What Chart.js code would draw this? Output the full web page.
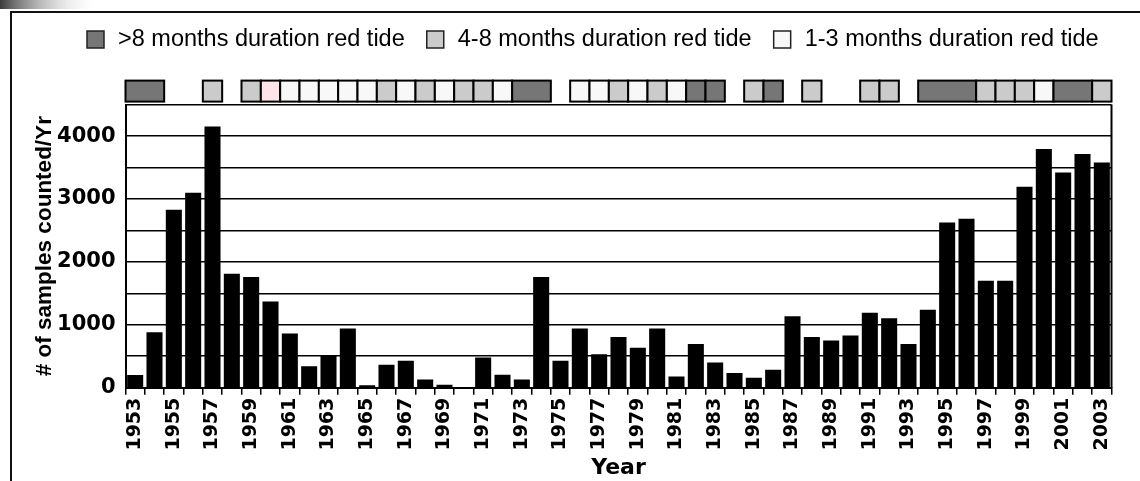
<!DOCTYPE html>
<html>
<head>
<meta charset="utf-8">
<script src="https://cdn.jsdelivr.net/npm/chart.js@4.4.0/dist/chart.umd.min.js"></script>
<style>
  html, body { margin: 0; padding: 0; background: #fff; }
  #wrap { position: relative; width: 1140px; height: 481px; }
</style>
</head>
<body>
<div id="wrap"><canvas id="samples-chart"></canvas></div>
<script>
// ---- data ----
const years = [1953, 1954, 1955, 1956, 1957, 1958, 1959, 1960, 1961, 1962,
    1963, 1964, 1965, 1966, 1967, 1968, 1969, 1970, 1971, 1972,
    1973, 1974, 1975, 1976, 1977, 1978, 1979, 1980, 1981, 1982,
    1983, 1984, 1985, 1986, 1987, 1988, 1989, 1990, 1991, 1992,
    1993, 1994, 1995, 1996, 1997, 1998, 1999, 2000, 2001, 2002, 2003];

const samplesCounted = [200, 880, 2830, 3100, 4150, 1810, 1760, 1370, 860, 340,
    510, 940, 40, 365, 430, 130, 45, 5, 480, 205,
    130, 1760, 430, 940, 530, 805, 635, 940, 180, 695,
    400, 235, 160, 285, 1135, 805, 750, 830, 1190, 1105,
    695, 1240, 2625, 2685, 1700, 1700, 3195, 3795, 3420, 3715, 3580];

// red tide events: first year, last year, duration class
const tideStart = [1953, 1957, 1959, 1960, 1961, 1962, 1963, 1964, 1965, 1966, 1967, 1968, 1969,
    1970, 1971, 1972, 1973, 1976, 1977, 1978, 1979, 1980, 1981, 1982, 1983, 1985, 1986,
    1988, 1991, 1992, 1994, 1997, 1998, 1999, 2000, 2001, 2003];
const tideEnd = [1954, 1957, 1959, 1960, 1961, 1962, 1963, 1964, 1965, 1966, 1967, 1968, 1969,
    1970, 1971, 1972, 1974, 1976, 1977, 1978, 1979, 1980, 1981, 1982, 1983, 1985, 1986,
    1988, 1991, 1992, 1996, 1997, 1998, 1999, 2000, 2002, 2003];
const tideType = ['long', 'mid', 'mid', 'odd', 'short', 'short', 'short', 'short', 'short', 'mid', 'short', 'mid', 'short',
    'mid', 'mid', 'short', 'long', 'short', 'short', 'mid', 'short', 'mid', 'short', 'long', 'long', 'mid', 'long',
    'mid', 'mid', 'mid', 'long', 'mid', 'mid', 'mid', 'short', 'long', 'mid'];

const legendLabels = ['>8 months duration red tide', '4-8 months duration red tide', '1-3 months duration red tide'];
const legendTypes = ['long', 'mid', 'short'];

const tideColors = { long: '#767676', mid: '#cbcbcb', short: '#f8f8f8', odd: '#ffe3e6' };

// frame, duration boxes and legend
const redTidePlugin = {
    id: 'redTide',
    beforeDraw(chart) {
        const ctx = chart.ctx;
        ctx.save();
        const g = ctx.createLinearGradient(0, 0, 100, 0);
        g.addColorStop(0, 'rgba(60,60,60,1)');
        g.addColorStop(1, 'rgba(255,255,255,0)');
        ctx.fillStyle = g;
        ctx.fillRect(0, 0, 100, 9);

        ctx.strokeStyle = '#111';
        ctx.lineWidth = 2;
        ctx.beginPath();
        ctx.moveTo(11, 490);
        ctx.lineTo(11, 12);
        ctx.lineTo(1145, 12);
        ctx.stroke();
        ctx.restore();
    },
    afterDraw(chart) {
        const { ctx, chartArea } = chart;
        const x = chart.scales.x;
        ctx.save();

        ctx.strokeStyle = '#000';
        ctx.lineWidth = 2;
        ctx.beginPath();
        ctx.moveTo(chartArea.right, chartArea.top);
        ctx.lineTo(chartArea.right, chartArea.bottom);
        ctx.stroke();

        const half = (x.getPixelForValue(1) - x.getPixelForValue(0)) / 2;
        const top = chartArea.top - 24;
        const h = 21;
        ctx.lineWidth = 2;
        tideStart.forEach((s, i) => {
            const x0 = x.getPixelForValue(years.indexOf(s)) - half;
            const x1 = x.getPixelForValue(years.indexOf(tideEnd[i])) + half;
            ctx.fillStyle = tideColors[tideType[i]];
            ctx.fillRect(x0, top, x1 - x0, h);
            ctx.strokeRect(x0, top, x1 - x0, h);
        });

        // legend
        ctx.font = '23.5px "Liberation Sans", Arial, sans-serif';
        ctx.textBaseline = 'middle';
        let lx = 87;
        const ly = 39;
        legendLabels.forEach((label, i) => {
            ctx.fillStyle = tideColors[legendTypes[i]];
            ctx.fillRect(lx, ly - 8, 17, 17);
            ctx.lineWidth = 1.5;
            ctx.strokeStyle = '#222';
            ctx.strokeRect(lx, ly - 8, 17, 17);
            lx += 17 + 14;
            ctx.fillStyle = '#000';
            ctx.fillText(label, lx, ly + 1);
            lx += ctx.measureText(label).width + 22;
        });
        ctx.restore();
    }
};

const ctxSamples = document.getElementById('samples-chart').getContext('2d');
new Chart(ctxSamples, {
    type: 'bar',
    data: {
        labels: years,
        datasets: [{
            data: samplesCounted,
            backgroundColor: '#000',
            borderWidth: 0,
            barPercentage: 0.83,
            categoryPercentage: 1.0
        }]
    },
    options: {
        responsive: true,
        maintainAspectRatio: false,
        animation: false,
        layout: { padding: { top: 104.6, right: 28.5, left: 0, bottom: 0 } },
        plugins: { legend: { display: false }, tooltip: { enabled: false } },
        scales: {
            x: {
                offset: true,
                grid: { display: true, drawOnChartArea: false, drawTicks: true, tickLength: 7, color: '#000', lineWidth: 1.5, offset: true },
                border: { display: true, color: '#000', width: 2 },
                ticks: {
                    autoSkip: false, maxRotation: 90, minRotation: 90, padding: 3, color: '#000',
                    font: { family: '"DejaVu Sans", Verdana, sans-serif', size: 19, weight: 'bold' },
                    callback: function (v, i) { return i % 2 === 0 ? this.getLabelForValue(v) : ''; }
                },
                title: {
                    display: true, text: 'Year', color: '#000', padding: { top: 0, bottom: 0 },
                    font: { family: '"DejaVu Sans", Verdana, sans-serif', size: 22, weight: 'bold' }
                },
                afterFit: s => { s.height = 93.3; }
            },
            y: {
                min: 0, max: 4500,
                grid: { color: '#000', lineWidth: 1.5, drawTicks: false },
                border: { display: true, color: '#000', width: 2 },
                ticks: {
                    stepSize: 500, padding: 10, color: '#000',
                    font: { family: '"DejaVu Sans", Verdana, sans-serif', size: 21, weight: 'bold' },
                    callback: v => (v % 1000 === 0 ? v : '')
                },
                title: {
                    display: true, text: '# of samples counted/Yr', color: '#000', padding: { top: 31, bottom: 0 },
                    font: { family: '"Liberation Sans", Arial, sans-serif', size: 22.5, weight: 'bold' }
                },
                afterFit: s => { s.width = 125.5; }
            }
        }
    },
    plugins: [redTidePlugin]
});
</script>
</body>
</html>
